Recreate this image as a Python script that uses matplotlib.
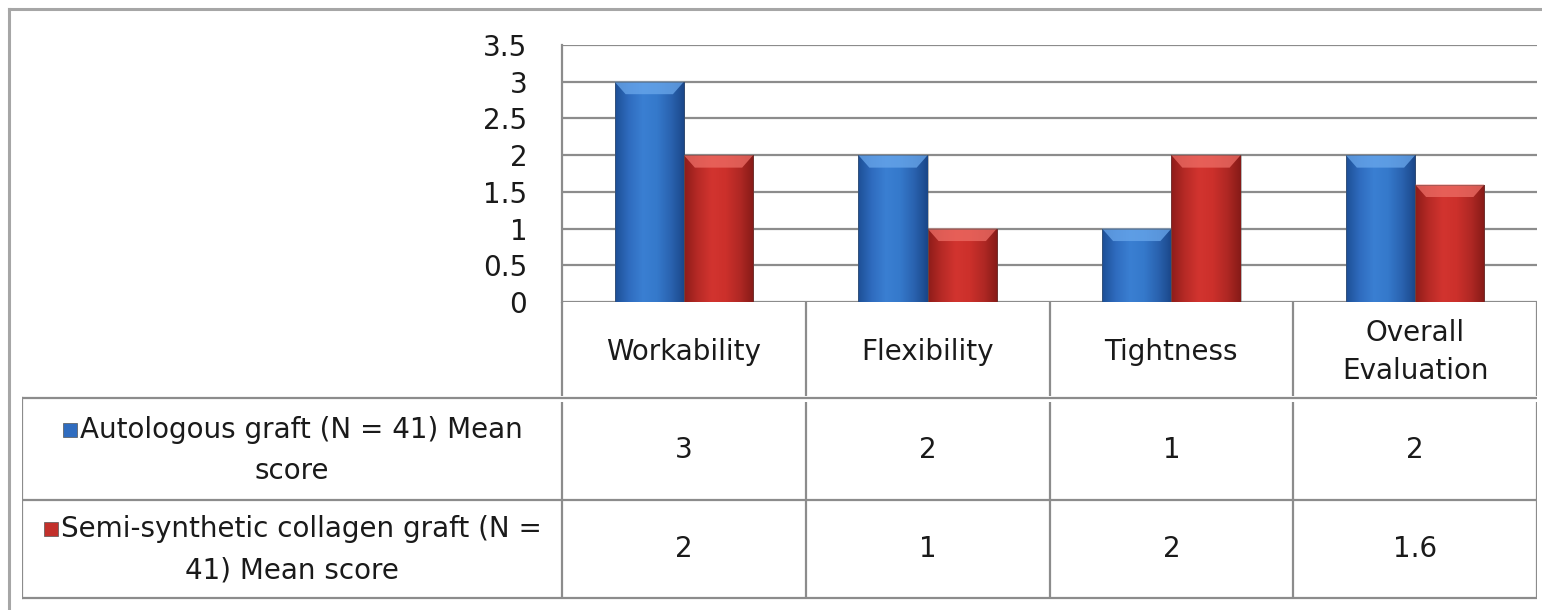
import numpy as np
import matplotlib
matplotlib.use("Agg")
import matplotlib.pyplot as plt
from matplotlib.colors import LinearSegmentedColormap
from matplotlib.lines import Line2D
from matplotlib.patches import Polygon, Rectangle

plt.rcParams['font.family'] = ['DejaVu Sans']

# Data
categories = ['Workability', 'Flexibility', 'Tightness', 'Overall\nEvaluation']
autologous = [3, 2, 1, 2]
semi_synthetic = [2, 1, 2, 1.6]
series_labels = [('Autologous graft (N = 41) Mean', 'score'),
                 ('Semi-synthetic collagen graft (N =', '41) Mean score')]
y_ticks = [0, 0.5, 1, 1.5, 2, 2.5, 3, 3.5]

W, H = 1542, 610
FS = 20
GRID = '#8c8c8c'
TXT = '#1a1a1a'

def fx(px):
    return px / W

def fy(py):
    return 1 - py / H

fig = plt.figure(figsize=(W / 100, H / 100), dpi=100)

# outer frame (top and left edges visible)
fig.add_artist(Line2D([fx(9), 1], [fy(9), fy(9)], color='#a6a6a6', lw=2.2))
fig.add_artist(Line2D([fx(9), fx(9)], [fy(9), 0], color='#a6a6a6', lw=2.2))

# chart area
ax = fig.add_axes([fx(562), fy(302), fx(1537) - fx(562), (302 - 45) / H])

blue_cmap = LinearSegmentedColormap.from_list(
    'b', ['#1d4f96', '#2f6cbf', '#3a7fd2', '#3579cb', '#2a63b0', '#1a4688'])
red_cmap = LinearSegmentedColormap.from_list(
    'r', ['#8e1c19', '#b72a26', '#d2342f', '#cc302b', '#b02824', '#851a17'])

bw = 0.284
x = np.arange(len(categories))
grad = np.linspace(0, 1, 256).reshape(1, -1)
for vals, off, cmap, top in [(autologous, -bw / 2, blue_cmap, '#6aa8ec'),
                             (semi_synthetic, bw / 2, red_cmap, '#ee6e66')]:
    bars = ax.bar(x + off, vals, bw, color='none', edgecolor='none', zorder=3)
    for b in bars:
        x0, h = b.get_x(), b.get_height()
        im = ax.imshow(grad, cmap=cmap, extent=(x0, x0 + bw, 0, h),
                       aspect='auto', zorder=3, interpolation='bicubic')
        im.set_clip_path(b)
        bev_h = 0.17
        inset = 0.045
        ax.add_patch(Polygon([(x0, h), (x0 + bw, h), (x0 + bw - inset, h - bev_h),
                              (x0 + inset, h - bev_h)], closed=True,
                             facecolor=top, edgecolor='none', alpha=0.75, zorder=4))
        ax.add_patch(Rectangle((x0, 0), bw, h, fill=False, edgecolor='#555555',
                               lw=0.6, alpha=0.5, zorder=5))

ax.set_xlim(-0.5, 3.5)
ax.set_ylim(0, 3.5)
ax.set_yticks(y_ticks)
ax.set_yticklabels([f'{t:g}' for t in y_ticks], fontsize=FS, color=TXT)
ax.set_xticks([])
ax.tick_params(axis='y', length=0, pad=25)
ax.yaxis.grid(True, color=GRID, lw=1.6)
ax.set_axisbelow(True)
for s in ['top', 'right', 'bottom']:
    ax.spines[s].set_visible(False)
ax.spines['left'].set_color(GRID)
ax.spines['left'].set_linewidth(1.6)

# data table
tax = fig.add_axes([fx(22), 0, fx(1537) - fx(22), 1])
x_left = -0.5 - (562 - 22) / 243.75
tax.set_xlim(x_left, 3.5)
tax.set_ylim(H, 0)
tax.axis('off')

col_edges = np.arange(len(categories) + 1) - 0.5
row_lines = [398, 500, 598]
for c in col_edges:
    tax.plot([c, c], [302, 396], color=GRID, lw=1.6, solid_capstyle='butt')
    tax.plot([c, c], [402, 598], color=GRID, lw=1.6, solid_capstyle='butt')
tax.plot([x_left, x_left], [398, 598], color=GRID, lw=1.6)
for r in row_lines:
    tax.plot([x_left, 3.5], [r, r], color=GRID, lw=1.6)

for i, cat in enumerate(categories):
    tax.text(i, 352, cat, ha='center', va='center', fontsize=FS,
             color=TXT, linespacing=1.45)

row_centers = [450, 549]
label_cx = (x_left + (-0.5)) / 2
sq_colors = ['#2f6cbf', '#c2302b']
texts = []
for rc, vals, (l1, l2) in zip(row_centers, [autologous, semi_synthetic], series_labels):
    for i, v in enumerate(vals):
        tax.text(i, rc, f'{v:g}', ha='center', va='center', fontsize=FS, color=TXT)
    t1 = tax.text(label_cx + 0.04, rc - 20, l1, ha='center', va='center',
                  fontsize=FS, color=TXT)
    tax.text(label_cx, rc + 21, l2, ha='center', va='center', fontsize=FS, color=TXT)
    texts.append(t1)

fig.canvas.draw()
r = fig.canvas.get_renderer()
inv = tax.transData.inverted()
for t, col, rc in zip(texts, sq_colors, row_centers):
    bb = t.get_window_extent(r)
    xa, _ = inv.transform((bb.x0 - 17, 0))
    xb, _ = inv.transform((bb.x0 - 3, 0))
    tax.add_patch(Rectangle((xa, rc - 20 - 7), xb - xa, 14, facecolor=col,
                            edgecolor='#555555', lw=0.5))

fig.savefig('out.png', dpi=100)
